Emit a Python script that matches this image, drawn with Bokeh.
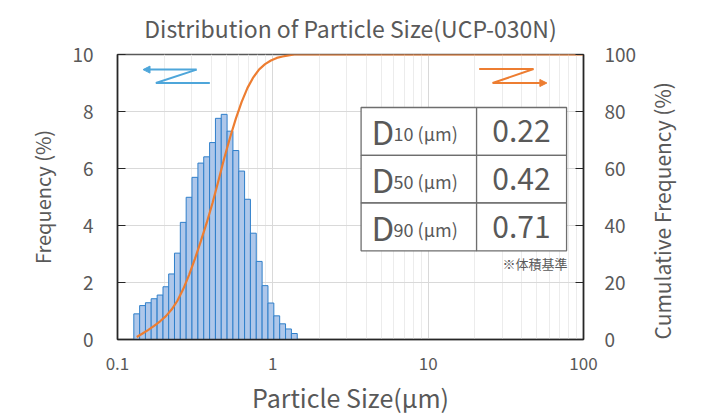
import math
from bokeh.plotting import figure
from bokeh.models import (Range1d, LinearAxis, FixedTicker, CustomJSTickFormatter,
                          Arrow, NormalHead, ColumnDataSource)
from bokeh.core.properties import value
from bokeh.embed import file_html
from bokeh.resources import INLINE

# ---------------- data ----------------
sizes = [0.133, 0.145, 0.158, 0.172, 0.188, 0.205, 0.223, 0.243, 0.265, 0.289,
         0.315, 0.344, 0.375, 0.409, 0.446, 0.486, 0.530, 0.578, 0.630, 0.687,
         0.749, 0.817, 0.891, 0.972, 1.060, 1.156, 1.261, 1.375]
frequency = [0.90, 1.19, 1.29, 1.43, 1.56, 1.85, 2.30, 3.03, 4.11, 4.99,
             5.69, 6.19, 6.41, 6.91, 7.76, 7.90, 7.31, 6.63, 5.91, 4.92,
             3.73, 2.74, 1.89, 1.28, 0.83, 0.55, 0.37, 0.21]
cum_sizes = sizes + [100.0]
cumulative = [0.9, 2.1, 3.4, 4.8, 6.4, 8.2, 10.5, 13.6, 17.7, 22.7,
              28.3, 34.5, 40.9, 47.9, 55.6, 63.5, 70.8, 77.5, 83.4, 88.3,
              92.0, 94.8, 96.6, 97.9, 98.8, 99.3, 99.7, 100.0, 100.0]
x_ticks = [0.1, 1, 10, 100]
y_ticks = [0, 2, 4, 6, 8, 10]
cum_ticks = [0, 20, 40, 60, 80, 100]
d_labels = ["10", "50", "90"]
d_values = ["0.22", "0.42", "0.71"]
note = "※体積基準"

# ---------------- style ----------------
FONT = "Noto Sans CJK JP"
TXT = "#595959"
BAR_FILL = "#aec7ea"
BAR_LINE = "#2f7fca"
ORANGE = "#ed7d31"
BLUE = "#4ea6da"

ratio = 2 ** (1 / 8)
lefts = [s / ratio ** 0.5 for s in sizes]
rights = [s * ratio ** 0.5 for s in sizes]

p = figure(x_axis_type="log",
           x_range=Range1d(0.1, 100), y_range=Range1d(0, 10),
           output_backend="svg", toolbar_location=None,
           min_border_left=117, min_border_right=117,
           min_border_top=54, min_border_bottom=73)
p.frame_width = 466
p.frame_height = 285
p.extra_y_ranges = {"cum": Range1d(0, 100)}

p.title.text = "Distribution of Particle Size(UCP-030N)"
p.title.align = "center"
p.title.vertical_align = "middle"
p.title.text_font = FONT
p.title.text_font_size = "23px"
p.title.text_font_style = "normal"
p.title.text_color = TXT
p.title.standoff = 18

p.outline_line_color = "#595959"
p.outline_line_width = 1.5
p.background_fill_color = "white"

# grids
p.xgrid.ticker = FixedTicker(ticks=x_ticks,
                             minor_ticks=[m * d for d in [0.1, 1, 10] for m in range(2, 10)])
p.xgrid.grid_line_color = "#d9d9d9"
p.xgrid.minor_grid_line_color = "#ececec"
p.ygrid.ticker = FixedTicker(ticks=y_ticks)
p.ygrid.grid_line_color = "#d9d9d9"

# x axis
xa = p.xaxis[0]
xa.ticker = FixedTicker(ticks=x_ticks)
xa.formatter = CustomJSTickFormatter(code="return String(tick);")
xa.axis_label = "Particle Size(µm)"
xa.axis_label_text_font = FONT
xa.axis_label_text_font_size = "25px"
xa.axis_label_text_font_style = "normal"
xa.axis_label_text_color = TXT
xa.axis_label_standoff = 6
xa.major_label_text_font = FONT
xa.major_label_text_font_size = "17px"
xa.major_label_text_color = TXT
xa.major_label_standoff = 17
xa.major_tick_in = 0
xa.major_tick_out = 0
xa.minor_tick_in = 0
xa.minor_tick_out = 0
xa.axis_line_color = "#262626"
xa.axis_line_width = 1.5

# left axis
ya = p.yaxis[0]
ya.ticker = FixedTicker(ticks=y_ticks)
ya.axis_label = "Frequency (%)"
ya.axis_label_text_font = FONT
ya.axis_label_text_font_size = "20px"
ya.axis_label_text_font_style = "normal"
ya.axis_label_text_color = TXT
ya.axis_label_standoff = 12
ya.major_label_text_font = FONT
ya.major_label_text_font_size = "19px"
ya.major_label_text_color = TXT
ya.major_label_standoff = 24
ya.major_tick_in = 8
ya.major_tick_out = 0
ya.minor_tick_in = 0
ya.minor_tick_out = 0
ya.major_tick_line_color = "#262626"
ya.axis_line_color = "#262626"
ya.axis_line_width = 1.5

# right axis
ra = LinearAxis(y_range_name="cum", ticker=FixedTicker(ticks=cum_ticks))
ra.axis_label = "Cumulative Frequency (%)"
ra.axis_label_text_font = FONT
ra.axis_label_text_font_size = "21px"
ra.axis_label_text_font_style = "normal"
ra.axis_label_text_color = TXT
ra.axis_label_standoff = 23
try:
    ra.axis_label_orientation = math.pi / 2
    ra.axis_label_align = "start"
except Exception:
    pass
ra.major_label_text_font = FONT
ra.major_label_text_font_size = "19px"
ra.major_label_text_color = TXT
ra.major_label_standoff = 21
ra.major_tick_in = 8
ra.major_tick_out = 0
ra.minor_tick_in = 0
ra.minor_tick_out = 0
ra.major_tick_line_color = "#262626"
ra.axis_line_color = "#262626"
ra.axis_line_width = 1.5
p.add_layout(ra, "right")

# bars
bars = ColumnDataSource(dict(left=lefts, right=rights, top=frequency))
p.quad(left="left", right="right", bottom=0, top="top", source=bars,
       fill_color=BAR_FILL, line_color=BAR_LINE, line_width=1)

# cumulative curve
p.line(cum_sizes, cumulative, y_range_name="cum", line_color=ORANGE, line_width=2.2)

# direction arrows (decoration, data coordinates)
blue_path_x = [0.393, 0.1766, 0.323]
blue_path_y = [9.0, 9.0, 9.47]
blue_tip = (0.146, 9.47)
p.line(blue_path_x, blue_path_y, line_color=BLUE, line_width=2)
p.add_layout(Arrow(end=NormalHead(size=7, fill_color=BLUE, line_color=BLUE, line_width=1),
                   x_start=blue_path_x[-1], y_start=blue_path_y[-1],
                   x_end=blue_tip[0], y_end=blue_tip[1],
                   line_color=BLUE, line_width=2))

orange_path_x = [21.3, 47.7, 26.0]
orange_path_y = [9.49, 9.49, 9.0]
orange_tip = (58.1, 9.0)
p.line(orange_path_x, orange_path_y, line_color=ORANGE, line_width=2)
p.add_layout(Arrow(end=NormalHead(size=7, fill_color=ORANGE, line_color=ORANGE, line_width=1),
                   x_start=orange_path_x[-1], y_start=orange_path_y[-1],
                   x_end=orange_tip[0], y_end=orange_tip[1],
                   line_color=ORANGE, line_width=2))

# table box
tbl_left, tbl_mid, tbl_right = 3.70, 20.5, 77.8
row_edges = [8.14, 6.46, 4.79, 3.11]
p.quad(left=[tbl_left] * 3 + [tbl_mid] * 3, right=[tbl_mid] * 3 + [tbl_right] * 3,
       top=row_edges[:3] * 2, bottom=row_edges[1:] * 2,
       fill_color="white", line_color="#6e6e6e", line_width=1.3)

row_mid = [(row_edges[i] + row_edges[i + 1]) / 2 for i in range(3)]
p.text(x=[4.32] * 3, y=row_mid, text=["D"] * 3, text_font=value(FONT),
       text_font_size="33px", text_color=TXT, text_baseline="middle", text_align="left")
p.text(x=[5.99] * 3, y=[m - 0.06 for m in row_mid], text=[f"{d} (µm)" for d in d_labels],
       text_font=value(FONT), text_font_size="18px", text_color=TXT,
       text_baseline="middle", text_align="left")
p.text(x=[39.9] * 3, y=row_mid, text=d_values, text_font=value(FONT),
       text_font_size="30px", text_color=TXT, text_baseline="middle", text_align="center")
p.text(x=[79.0], y=[2.68], text=[note], text_font=value(FONT), text_font_size="13px",
       text_color=TXT, text_baseline="alphabetic", text_align="right")

open("out.html", "w").write(file_html(p, INLINE))
